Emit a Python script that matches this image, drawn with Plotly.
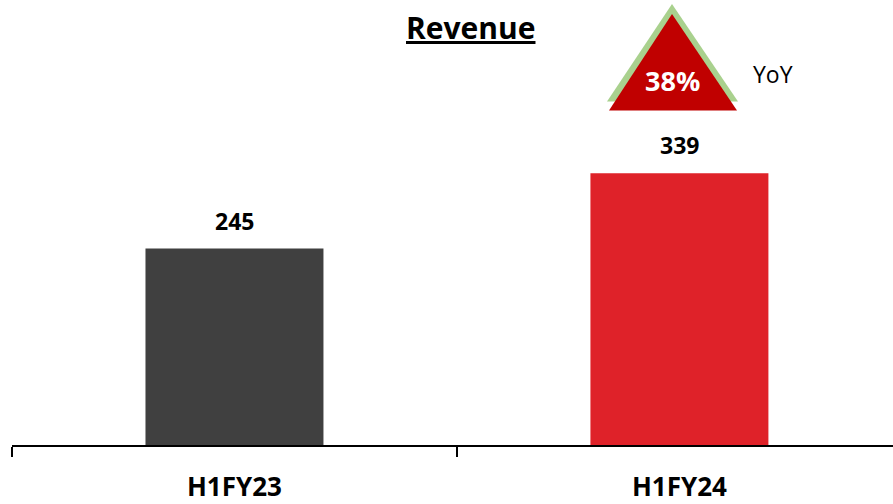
import plotly.graph_objects as go

# data
periods = ["H1FY23", "H1FY24"]
revenue = [245, 339]
bar_colors = ["#404040", "#DF2229"]
yoy_growth = "38%"

W, H = 893, 504
L, R, T, B = 12, 0, 0, 57


def px(x, y):
    # pixel position -> paper coords
    pw = W - L - R
    ph = H - T - B
    return (x - L) / pw, (H - B - y) / ph


fig = go.Figure()

fig.add_trace(
    go.Bar(
        x=periods,
        y=revenue,
        marker=dict(color=bar_colors, line=dict(width=0)),
        width=0.4,
        showlegend=False,
        hoverinfo="skip",
    )
)

# value labels above bars
for p, v in zip(periods, revenue):
    fig.add_annotation(
        x=p, y=v, text=f"<b>{v}</b>", showarrow=False,
        xanchor="center", yanchor="middle", yshift=28,
        font=dict(family="Open Sans", size=23, color="#000000"),
    )

# title
tx, ty = px(471, 28)
fig.add_annotation(
    x=tx, y=ty, xref="paper", yref="paper", text="<b><u>Revenue</u></b>",
    xanchor="center", yanchor="middle",
    showarrow=False, font=dict(family="Open Sans", size=30, color="#000000"),
)


def tri(apex, left, right):
    ax, ay = px(*apex)
    lx, ly = px(*left)
    rx, ry = px(*right)
    return f"M {ax} {ay} L {lx} {ly} L {rx} {ry} Z"


# YoY triangle: green outline behind, red front
fig.add_shape(type="path", xref="paper", yref="paper",
              path=tri((672, 4), (607, 102), (738, 102)),
              fillcolor="#A9D18E", line=dict(width=0), layer="above")
fig.add_shape(type="path", xref="paper", yref="paper",
              path=tri((672, 14), (609, 111), (737, 111)),
              fillcolor="#C00000", line=dict(width=0), layer="above")

gx, gy = px(672, 81)
fig.add_annotation(
    x=gx, y=gy, xref="paper", yref="paper", text=f"<b>{yoy_growth}</b>",
    xanchor="center", yanchor="middle",
    showarrow=False, font=dict(family="Open Sans", size=27, color="#FFFFFF"),
)
yx, yy = px(773, 74)
fig.add_annotation(
    x=yx, y=yy, xref="paper", yref="paper", text="YoY",
    xanchor="center", yanchor="middle",
    showarrow=False, font=dict(family="Open Sans", size=23, color="#000000"),
)

fig.update_layout(
    width=W, height=H,
    margin=dict(l=L, r=R, t=T, b=B),
    paper_bgcolor="#FFFFFF",
    plot_bgcolor="#FFFFFF",
    bargap=0.6,
    xaxis=dict(
        type="category",
        range=[-0.5, 1.48],
        showline=True, linecolor="#000000", linewidth=2,
        tickson="boundaries", ticks="outside", ticklen=10,
        tickcolor="#000000", tickwidth=2,
        showgrid=False, zeroline=False,
        tickfont=dict(family="Open Sans", size=26, color="#000000"),
        ticklabelstandoff=18,
    ),
    yaxis=dict(
        range=[0, 555], visible=False, showgrid=False, zeroline=False,
    ),
)
fig.update_xaxes(tickvals=periods, ticktext=[f"<b>{p}</b>" for p in periods])

# drop the default page margin so the figure sits at the window origin
fig.write_html(
    "out.html",
    config={"displayModeBar": False},
    post_script="document.body.style.margin='0';",
)
